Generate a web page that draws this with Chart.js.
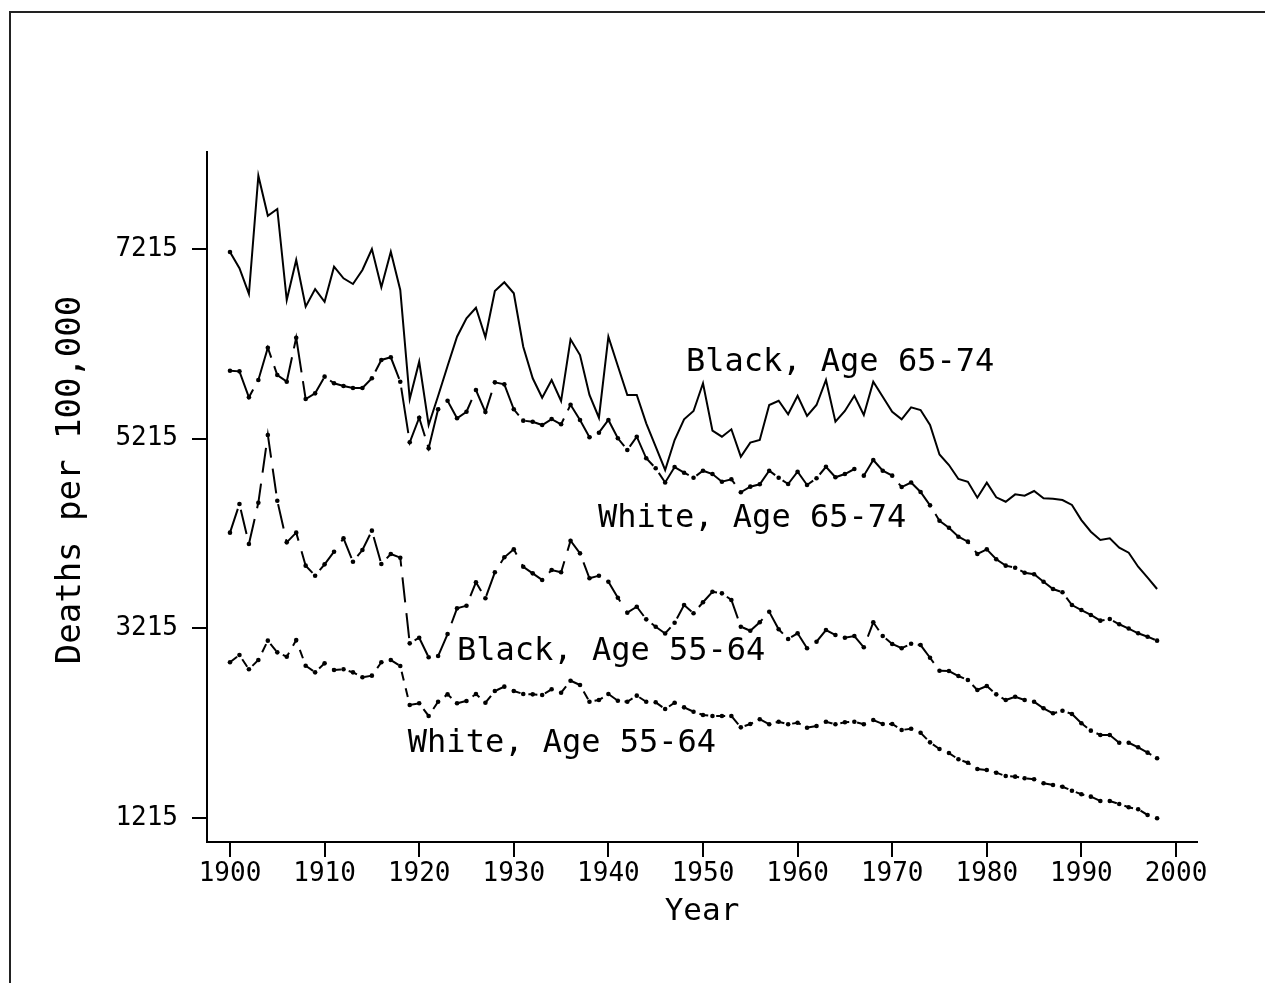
<!DOCTYPE html>
<html>
<head>
<meta charset="utf-8">
<script src="https://cdn.jsdelivr.net/npm/chart.js@4/dist/chart.umd.min.js"></script>
<style>
  html, body { margin: 0; padding: 0; background: #fff; }
  #c { display: block; }
</style>
</head>
<body>
<canvas id="c" width="1265" height="983"></canvas>
<script>
// ---- data (years 1900-1998) ----
const years = Array.from({length: 99}, (_, i) => 1900 + i);

const black6574 = [7184,7012,6741,7988,7566,7637,6677,7099,6607,6793,6659,7029,6906,6846,6994,7215,6811,7187,6783,5633,
  6027,5359,5665,5981,6290,6484,6596,6284,6772,6864,6748,6185,5852,5647,5834,5612,6263,6097,5676,5436,
  6290,5981,5676,5676,5377,5130,4885,5201,5419,5507,5799,5299,5236,5314,5025,5173,5201,5570,5615,5472,
  5668,5454,5570,5834,5394,5507,5668,5465,5816,5658,5499,5419,5546,5517,5359,5048,4937,4790,4761,4593,
  4751,4597,4550,4628,4614,4663,4586,4582,4568,4516,4357,4234,4147,4164,4065,4013,3865,3749,3630];

const white6574 = [5932,5925,5651,5834,6174,5886,5816,6280,5633,5693,5869,5799,5771,5749,5749,5852,6045,6073,5816,5177,
  5436,5113,5525,5615,5430,5499,5728,5496,5809,5788,5525,5405,5394,5359,5422,5367,5573,5412,5230,5278,
  5412,5219,5096,5236,5008,4903,4753,4916,4856,4803,4877,4842,4761,4787,4650,4709,4734,4877,4803,4737,
  4867,4727,4797,4919,4808,4842,4895,4825,4990,4877,4825,4705,4753,4653,4512,4350,4276,4181,4129,3999,
  4048,3943,3876,3854,3802,3785,3707,3630,3595,3461,3408,3356,3296,3313,3258,3213,3163,3127,3085];

const black5564 = [4224,4526,4104,4540,5254,4561,4122,4224,3876,3770,3890,4023,4164,3918,4041,4245,3893,3999,3960,3057,
  3116,2910,2923,3155,3426,3454,3700,3532,3806,3964,4048,3865,3795,3725,3830,3806,4139,4006,3743,3770,
  3707,3538,3380,3443,3310,3232,3161,3274,3461,3374,3490,3601,3584,3514,3232,3190,3279,3390,3205,3103,
  3163,3005,3074,3197,3145,3116,3134,3015,3279,3134,3050,3005,3053,3039,2905,2768,2765,2712,2670,2565,
  2607,2519,2459,2494,2459,2441,2372,2319,2346,2312,2214,2136,2090,2090,2009,2009,1961,1904,1845];

const white5564 = [2857,2934,2783,2881,3085,2962,2916,3092,2821,2751,2846,2776,2783,2751,2699,2716,2857,2881,2818,2407,
  2425,2291,2441,2519,2425,2449,2523,2431,2554,2600,2554,2523,2519,2512,2572,2536,2663,2617,2441,2459,
  2523,2452,2441,2505,2441,2435,2364,2431,2382,2336,2301,2291,2291,2291,2171,2206,2256,2203,2230,2203,
  2220,2167,2185,2230,2203,2224,2230,2203,2248,2206,2206,2143,2157,2114,2013,1943,1900,1834,1798,1732,
  1721,1693,1658,1651,1634,1623,1581,1563,1545,1503,1465,1440,1394,1394,1363,1328,1307,1247,1212];

const xTickLabels = [1900,1910,1920,1930,1940,1950,1960,1970,1980,1990,2000];
const yTickLabels = [1215,3215,5215,7215];

const seriesNames = ['Black, Age 65-74','White, Age 65-74','Black, Age 55-64','White, Age 55-64'];
// label anchor (year, value) — left/baseline of each text label
const labelYears  = [1948.2, 1938.9, 1924.0, 1918.8];
const labelValues = [5929, 4284, 2886, 1911];

const xTitle = 'Year';
const yTitle = 'Deaths per 100,000';

// ---- chart ----
const FONT = '"DejaVu Sans Mono", monospace';
const toXY = arr => years.map((yr, i) => ({x: yr, y: arr[i]}));

const decor = {
  id: 'decor',
  afterDraw(chart) {
    const ctx = chart.ctx;
    const xs = chart.scales.x, ys = chart.scales.y;
    ctx.save();
    // outer frame (top and left)
    ctx.strokeStyle = '#222';
    ctx.lineWidth = 2;
    ctx.beginPath();
    ctx.moveTo(10, 983);
    ctx.lineTo(10, 12);
    ctx.lineTo(1265, 12);
    ctx.stroke();
    // series labels
    ctx.fillStyle = '#000';
    ctx.font = '32px ' + FONT;
    ctx.textAlign = 'left';
    ctx.textBaseline = 'alphabetic';
    seriesNames.forEach((t, i) => {
      ctx.fillText(t, xs.getPixelForValue(labelYears[i]), ys.getPixelForValue(labelValues[i]));
    });
    // axis titles
    ctx.font = '31px ' + FONT;
    ctx.textAlign = 'center';
    ctx.textBaseline = 'middle';
    ctx.fillText(xTitle, (chart.chartArea.left + chart.chartArea.right) / 2, 912);
    ctx.translate(71, 480);
    ctx.rotate(-Math.PI / 2);
    ctx.font = '34px ' + FONT;
    ctx.fillText(yTitle, 0, 0);
    ctx.restore();
  }
};

const common = {
  borderColor: '#000',
  backgroundColor: '#000',
  pointBackgroundColor: '#000',
  pointBorderColor: '#000',
  borderWidth: 2,
  pointRadius: 2.3,
  pointBorderWidth: 0,
  fill: false,
  tension: 0
};

new Chart(document.getElementById('c'), {
  type: 'line',
  data: {
    datasets: [
      Object.assign({}, common, {label: seriesNames[0], data: toXY(black6574), pointRadius: ctx => ctx.dataIndex === 0 ? 2.3 : 0}),
      Object.assign({}, common, {label: seriesNames[1], data: toXY(white6574), borderDash: [46, 9]}),
      Object.assign({}, common, {label: seriesNames[2], data: toXY(black5564), borderDash: [25, 11]}),
      Object.assign({}, common, {label: seriesNames[3], data: toXY(white5564), borderDash: [9, 8]})
    ]
  },
  options: {
    responsive: false,
    animation: false,
    devicePixelRatio: 1,
    layout: { padding: { left: 0, right: 68, top: 152, bottom: 0 } },
    plugins: { legend: { display: false }, tooltip: { enabled: false } },
    scales: {
      x: {
        type: 'linear',
        min: 1897.57,
        max: 2002.22,
        afterBuildTicks: s => { s.ticks = xTickLabels.map(v => ({value: v})); },
        afterFit: s => { s.height = 141; },
        grid: { drawOnChartArea: false, drawTicks: true, tickLength: 15, color: '#000', lineWidth: 2 },
        border: { display: true, color: '#000', width: 2 },
        ticks: { color: '#000', font: { family: FONT, size: 26 }, padding: 2, maxRotation: 0, autoSkip: false, callback: v => String(v) }
      },
      y: {
        type: 'linear',
        min: 962,
        max: 8238,
        afterBuildTicks: s => { s.ticks = yTickLabels.map(v => ({value: v})); },
        afterFit: s => { s.width = 207; },
        grid: { drawOnChartArea: false, drawTicks: true, tickLength: 15, color: '#000', lineWidth: 2 },
        border: { display: true, color: '#000', width: 2 },
        ticks: { color: '#000', font: { family: FONT, size: 26 }, padding: 14, autoSkip: false, callback: v => String(v) }
      }
    }
  },
  plugins: [decor]
});
</script>
</body>
</html>
